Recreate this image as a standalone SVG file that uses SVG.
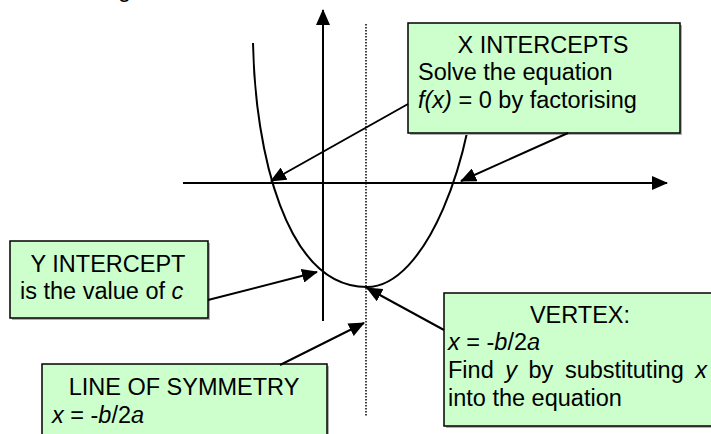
<svg xmlns="http://www.w3.org/2000/svg" width="711" height="434" viewBox="0 0 711 434">
<style>
text{font-family:"Liberation Sans",Arial,sans-serif;font-size:23.5px;fill:#000}
.i{font-style:italic}
.box{fill:#ccffcc;stroke:#000;stroke-width:1.5}
.sh{fill:#b0b0b0}
.ln{stroke:#000;stroke-width:2;fill:none}
.ar{stroke:#000;stroke-width:2;fill:none;marker-end:url(#ah)}
</style>
<defs>
<marker id="ah" markerUnits="userSpaceOnUse" markerWidth="16" markerHeight="14" refX="15" refY="7" orient="auto" viewBox="0 0 16 14">
<path d="M0,0 L16,7 L0,14 z" fill="#000"/>
</marker>
</defs>
<rect width="711" height="434" fill="#fff"/>
<text x="118" y="-3">g</text>
<g id="axes">
<line class="ar" x1="183" y1="183" x2="667" y2="183"/>
<line class="ar" x1="323" y1="321" x2="323" y2="10"/>
<line x1="366" y1="24" x2="366" y2="417" stroke="#000" stroke-width="1.5" stroke-dasharray="1.5,1.5"/>
</g>
<g id="parabola">
<path class="ln" d="M253,43 C255,150 285,287 367,287 C425,287 475,160 478,43"/>
</g>
<g id="x-intercepts">
<rect class="sh" x="410" y="25" width="272" height="110"/>
<rect class="box" x="408" y="23" width="272" height="110"/>
<text x="543" y="53" text-anchor="middle">X INTERCEPTS</text>
<text x="418" y="80">Solve the equation</text>
<text x="418" y="108"><tspan class="i">f(x)</tspan> = 0 by factorising</text>
</g>
<g id="y-intercept">
<rect class="sh" x="12" y="243" width="198" height="77"/>
<rect class="box" x="10" y="241" width="198" height="77"/>
<text x="108" y="272" text-anchor="middle">Y INTERCEPT</text>
<text x="20" y="299">is the value of <tspan class="i">c</tspan></text>
</g>
<g id="line-of-symmetry">
<rect class="sh" x="44" y="366" width="285" height="80"/>
<rect class="box" x="42" y="364" width="285" height="80"/>
<text x="184" y="395" text-anchor="middle">LINE OF SYMMETRY</text>
<text x="52" y="423" class="i">x<tspan font-style="normal"> = -</tspan>b<tspan font-style="normal">/2</tspan>a</text>
</g>
<g id="vertex">
<rect class="sh" x="446" y="295" width="270" height="133"/>
<rect class="box" x="444" y="293" width="270" height="133"/>
<text x="580" y="323" text-anchor="middle">VERTEX:</text>
<text x="448" y="350" class="i">x<tspan font-style="normal"> = -</tspan>b<tspan font-style="normal">/2</tspan>a</text>
<text x="448" y="378" word-spacing="5">Find <tspan class="i">y</tspan> by substituting <tspan class="i">x</tspan></text>
<text x="448" y="406">into the equation</text>
</g>
<g id="connectors">
<line class="ar" x1="408" y1="104" x2="271" y2="181"/>
<line class="ar" x1="568" y1="133" x2="461" y2="181"/>
<line class="ar" x1="208" y1="300" x2="317" y2="272"/>
<line class="ar" x1="280" y1="365" x2="364" y2="323"/>
<line class="ar" x1="444" y1="330" x2="367" y2="288"/>
</g>
</svg>
